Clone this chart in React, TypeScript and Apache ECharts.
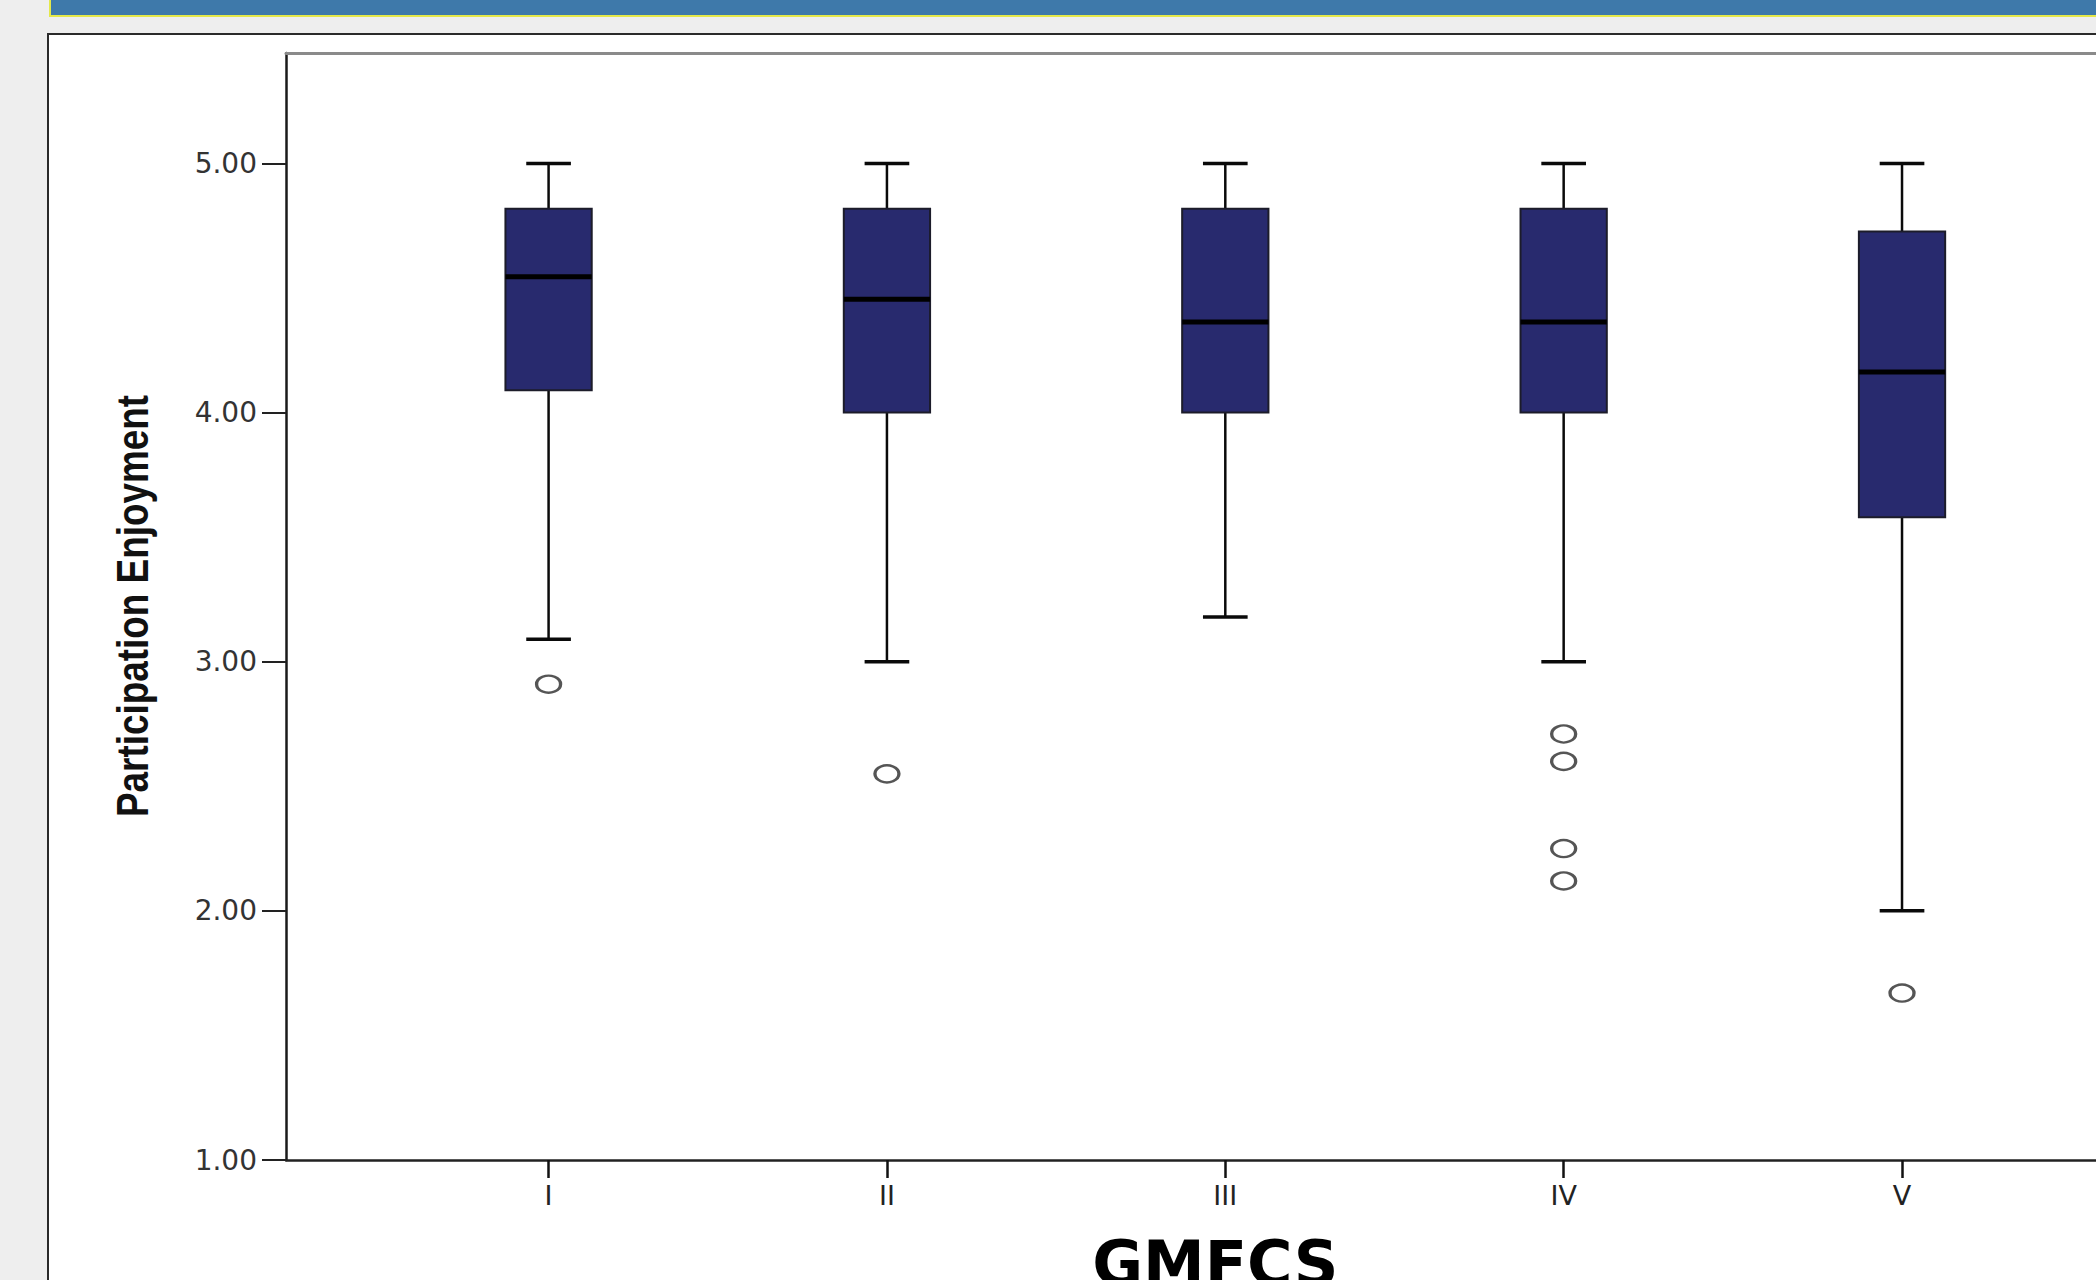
import React, { useEffect, useRef } from "react";
import * as echarts from "echarts";

// ---- data ----
const categories = ["I", "II", "III", "IV", "V"];
const whiskerLow = [3.09, 3.0, 3.18, 3.0, 2.0];
const quartile1 = [4.09, 4.0, 4.0, 4.0, 3.58];
const medians = [4.545, 4.455, 4.364, 4.364, 4.163];
const quartile3 = [4.818, 4.818, 4.818, 4.818, 4.727];
const whiskerHigh = [5.0, 5.0, 5.0, 5.0, 5.0];
const outlierCategory = [0, 1, 3, 3, 3, 3, 4];
const outlierValue = [2.91, 2.55, 2.71, 2.6, 2.25, 2.12, 1.67];
const yTicks = [1, 2, 3, 4, 5];
const yMin = 1;
const yMax = 5.4435;
const xTitle = "GMFCS";
const yTitle = "Participation Enjoyment";

export default function App() {
  const ref = useRef<HTMLDivElement>(null);

  useEffect(() => {
    if (!ref.current) return;
    const chart = echarts.init(ref.current, undefined, { renderer: "svg" });

    const boxData = categories.map((_, i) => [
      i,
      whiskerLow[i],
      quartile1[i],
      medians[i],
      quartile3[i],
      whiskerHigh[i],
    ]);
    const outlierData = outlierCategory.map((c, i) => [c, outlierValue[i]]);

    const labelFont = "'DejaVu Sans', sans-serif";

    const option: any = {
      animation: false,
      backgroundColor: "#eeeeee",
      graphic: [
        {
          type: "rect",
          z: -10,
          shape: { x: 50, y: -10, width: 2100, height: 26 },
          style: { fill: "#3e79aa", stroke: "#e4e84a", lineWidth: 2 },
        },
        {
          type: "rect",
          z: -10,
          shape: { x: 48, y: 34, width: 2100, height: 1300 },
          style: { fill: "#ffffff", stroke: "#2a2a2a", lineWidth: 2 },
        },
        {
          type: "text",
          z: 10,
          x: 133,
          y: 606,
          rotation: Math.PI / 2,
          scaleX: 0.82,
          style: {
            text: yTitle,
            fontFamily: "'Liberation Sans', Arial, sans-serif",
            fontWeight: "bold",
            fontSize: 45,
            fill: "#111",
            align: "center",
            verticalAlign: "middle",
          },
        },
      ],
      grid: [
        { left: 379.4, top: 53, width: 1691.8, height: 1107, outerBoundsMode: "none", containLabel: false },
        { left: 286, top: 53, width: 2000, height: 1107, outerBoundsMode: "none", containLabel: false },
      ],
      xAxis: [
        {
          type: "category",
          gridIndex: 0,
          data: categories,
          boundaryGap: true,
          axisLine: { show: false },
          axisTick: {
            show: true,
            alignWithLabel: true,
            length: 18,
            lineStyle: { color: "#111", width: 2.5 },
          },
          axisLabel: {
            margin: 22,
            fontFamily: labelFont,
            fontSize: 27,
            color: "#222",
          },
          splitLine: { show: false },
          name: xTitle,
          nameLocation: "middle",
          nameGap: 72,
          nameTextStyle: {
            fontFamily: labelFont,
            fontWeight: "bold",
            fontSize: 62,
            color: "#000",
            padding: [0, 20, 0, 0],
          },
        },
        {
          type: "value",
          gridIndex: 1,
          position: "bottom",
          min: 0,
          max: 1,
          axisLine: { show: true, lineStyle: { color: "#222", width: 2.5 } },
          axisTick: { show: false },
          axisLabel: { show: false },
          splitLine: { show: false },
        },
        {
          type: "value",
          gridIndex: 1,
          position: "top",
          min: 0,
          max: 1,
          axisLine: { show: true, lineStyle: { color: "#8a8a8a", width: 3 } },
          axisTick: { show: false },
          axisLabel: { show: false },
          splitLine: { show: false },
        },
      ],
      yAxis: [
        {
          type: "value",
          gridIndex: 0,
          min: yMin,
          max: yMax,
          show: false,
          splitLine: { show: false },
        },
        {
          type: "value",
          gridIndex: 1,
          min: yMin,
          max: yMax,
          axisLine: { show: true, lineStyle: { color: "#1a1a1a", width: 2.5 } },
          axisTick: {
            show: true,
            customValues: yTicks,
            length: 24,
            lineStyle: { color: "#222", width: 2 },
          },
          axisLabel: {
            customValues: yTicks,
            margin: 29,
            fontFamily: labelFont,
            fontSize: 28,
            color: "#333",
            formatter: (v: number) => v.toFixed(2),
          },
          splitLine: { show: false },
        },
      ],
      series: [
        {
          type: "custom",
          xAxisIndex: 0,
          yAxisIndex: 0,
          encode: { x: 0, y: [1, 2, 3, 4, 5] },
          data: boxData,
          z: 3,
          renderItem: (params: any, api: any) => {
            const idx = api.value(0);
            const low = api.coord([idx, api.value(1)]);
            const q1 = api.coord([idx, api.value(2)]);
            const med = api.coord([idx, api.value(3)]);
            const q3 = api.coord([idx, api.value(4)]);
            const high = api.coord([idx, api.value(5)]);
            const band = api.size([1, 0])[0];
            const bw = band * 0.255;
            const cw = band * 0.132;
            const x = med[0];
            const whisker = { stroke: "#0a0a0a", lineWidth: 2.5 };
            const cap = { stroke: "#0a0a0a", lineWidth: 3.5 };
            return {
              type: "group",
              children: [
                { type: "line", shape: { x1: x, y1: high[1], x2: x, y2: q3[1] }, style: whisker },
                { type: "line", shape: { x1: x, y1: q1[1], x2: x, y2: low[1] }, style: whisker },
                { type: "line", shape: { x1: x - cw / 2, y1: high[1], x2: x + cw / 2, y2: high[1] }, style: cap },
                { type: "line", shape: { x1: x - cw / 2, y1: low[1], x2: x + cw / 2, y2: low[1] }, style: cap },
                {
                  type: "rect",
                  shape: { x: x - bw / 2, y: q3[1], width: bw, height: q1[1] - q3[1] },
                  style: { fill: "#282a6e", stroke: "#1c1c2a", lineWidth: 2 },
                },
                {
                  type: "line",
                  shape: { x1: x - bw / 2, y1: med[1], x2: x + bw / 2, y2: med[1] },
                  style: { stroke: "#000", lineWidth: 5 },
                },
              ],
            };
          },
        },
        {
          type: "scatter",
          xAxisIndex: 0,
          yAxisIndex: 0,
          data: outlierData,
          symbol: "circle",
          symbolSize: [24, 17],
          z: 4,
          itemStyle: { color: "#ffffff", borderColor: "#2a2a2a", borderWidth: 2.8 },
        },
      ],
    };

    chart.setOption(option);
    return () => chart.dispose();
  }, []);

  return (
    <div
      style={{
        position: "fixed",
        left: 0,
        top: 0,
        width: 2096,
        height: 1280,
        overflow: "hidden",
        background: "#eeeeee",
      }}
    >
      <div ref={ref} style={{ width: 2096, height: 1280 }} />
    </div>
  );
}
